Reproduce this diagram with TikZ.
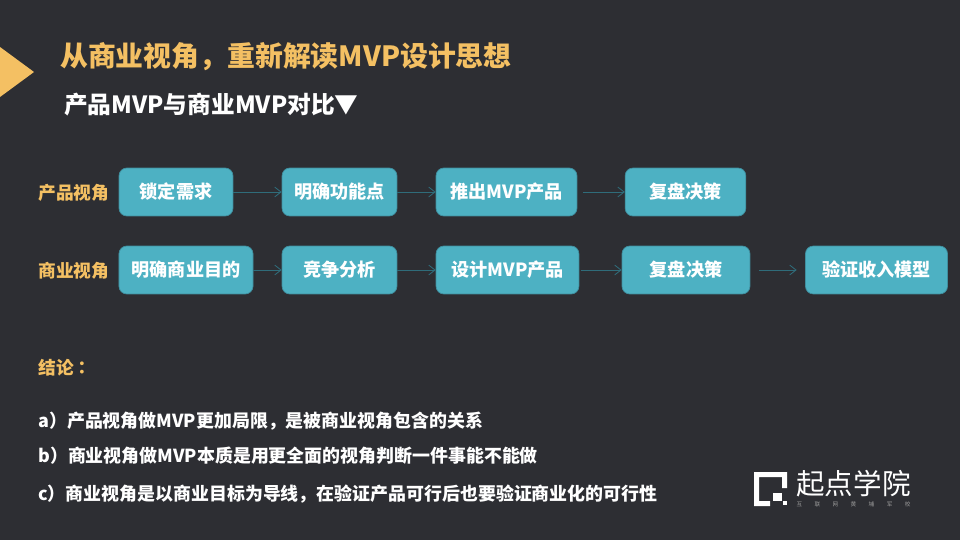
\documentclass[tikz,border=0pt]{standalone}
\usepackage{fontspec}
\setmainfont{Noto Sans CJK SC}
\newfontfamily\colonfont{Noto Sans CJK TC}
\usepackage{tikz}
\usetikzlibrary{arrows.meta}
\definecolor{bgdark}{HTML}{2D2E33}
\definecolor{hlyellow}{HTML}{F4C063}
\definecolor{boxteal}{HTML}{4DB1C3}
\definecolor{boxedge}{HTML}{3F8E9E}
\definecolor{flowline}{HTML}{2F6C7A}
\definecolor{subgray}{HTML}{9A9A9A}
\tikzset{
  x=0.025cm,y=-0.025cm,
  stepbox/.style={draw=boxedge,fill=boxteal,rectangle,rounded corners=5.5pt,line width=0.5pt,minimum height=34.1pt,inner sep=0pt,text=white,font=\fontsize{12.9}{15}\selectfont\bfseries},
  rowlabel/.style={anchor=west,inner sep=0pt,text=hlyellow,font=\fontsize{12.6}{15}\selectfont\bfseries},
  point/.style={anchor=west,inner sep=0pt,text=white,font=\fontsize{12.75}{14}\selectfont\bfseries},
  flow/.style={-{Straight Barb[length=4.5pt,width=7pt]},flowline,line width=0.6pt},
}
\begin{document}
\begin{tikzpicture}
\useasboundingbox [fill=bgdark] (0,0) rectangle (960,540);
\fill [hlyellow] (0,47) -- (34,72) -- (0,97) -- cycle;
\node [anchor=west,inner sep=0pt,text=hlyellow,font=\fontsize{19.8}{24}\selectfont\bfseries] (title) at(60,57){从商业视角，重新解读MVP设计思想};
\node [anchor=west,inner sep=0pt,text=white,font=\fontsize{16.85}{20}\selectfont\bfseries] (subtitle) at(64,105){产品MVP与商业MVP对比▼};

\node [rowlabel] (lblp) at(38,193){产品视角};
\node [stepbox,minimum width=81pt] (p1) at(176,192){锁定需求};
\node [stepbox,minimum width=81.7pt] (p2) at(339.5,192){明确功能点};
\node [stepbox,minimum width=100.2pt] (p3) at(506.5,192){推出MVP产品};
\node [stepbox,minimum width=85.8pt] (p4) at(685.5,192){复盘决策};
\draw [flow] (p1) -- (p2);
\draw [flow] (p2) -- (p3);
\draw [flow,shorten <=4pt] (p3) -- (p4);

\node [rowlabel] (lblb) at(38,271){商业视角};
\node [stepbox,minimum width=95.3pt] (b1) at(186,270){明确商业目的};
\node [stepbox,minimum width=81.7pt] (b2) at(339.5,270){竞争分析};
\node [stepbox,minimum width=101.6pt] (b3) at(507.5,270){设计MVP产品};
\node [stepbox,minimum width=91pt] (b4) at(686,270){复盘决策};
\node [stepbox,minimum width=101pt] (b5) at(876.5,270){验证收入模型};
\draw [flow] (b1) -- (b2);
\draw [flow] (b2) -- (b3);
\draw [flow,shorten <=1pt] (b3) -- (b4);
\draw [flow,shorten <=6pt,shorten >=6pt] (b4) -- (b5);

\node [rowlabel] (concl) at(38,368){结论{\colonfont ：}};
\node [point] (pa) at(38,421){a）产品视角做MVP更加局限，是被商业视角包含的关系};
\node [point] (pb) at(38,456){b）商业视角做MVP本质是用更全面的视角判断一件事能不能做};
\node [point] (pc) at(38,494){c）商业视角是以商业目标为导线，在验证产品可行后也要验证商业化的可行性};

% logo
\fill [white] (754,472) -- (787,472) -- (787,488) -- (782,488) -- (782,477) -- (759,477) -- (759,501) -- (770,501) -- (770,506) -- (754,506) -- cycle;
\fill [white] (773,493) rectangle (782,501);
\fill [white] (783,501) rectangle (787,505);
\node [inner sep=0pt,text=white,font=\fontsize{20.3}{24}\selectfont] (logotext) at(853.5,484){起点学院};
\node [inner sep=0pt,text=subgray,font=\fontsize{4}{5}\selectfont] (logosub) at(853.5,504){\makebox[81pt][s]{互\hfill{}联\hfill{}网\hfill{}黄\hfill{}埔\hfill{}军\hfill{}校}};
\end{tikzpicture}
\end{document}
